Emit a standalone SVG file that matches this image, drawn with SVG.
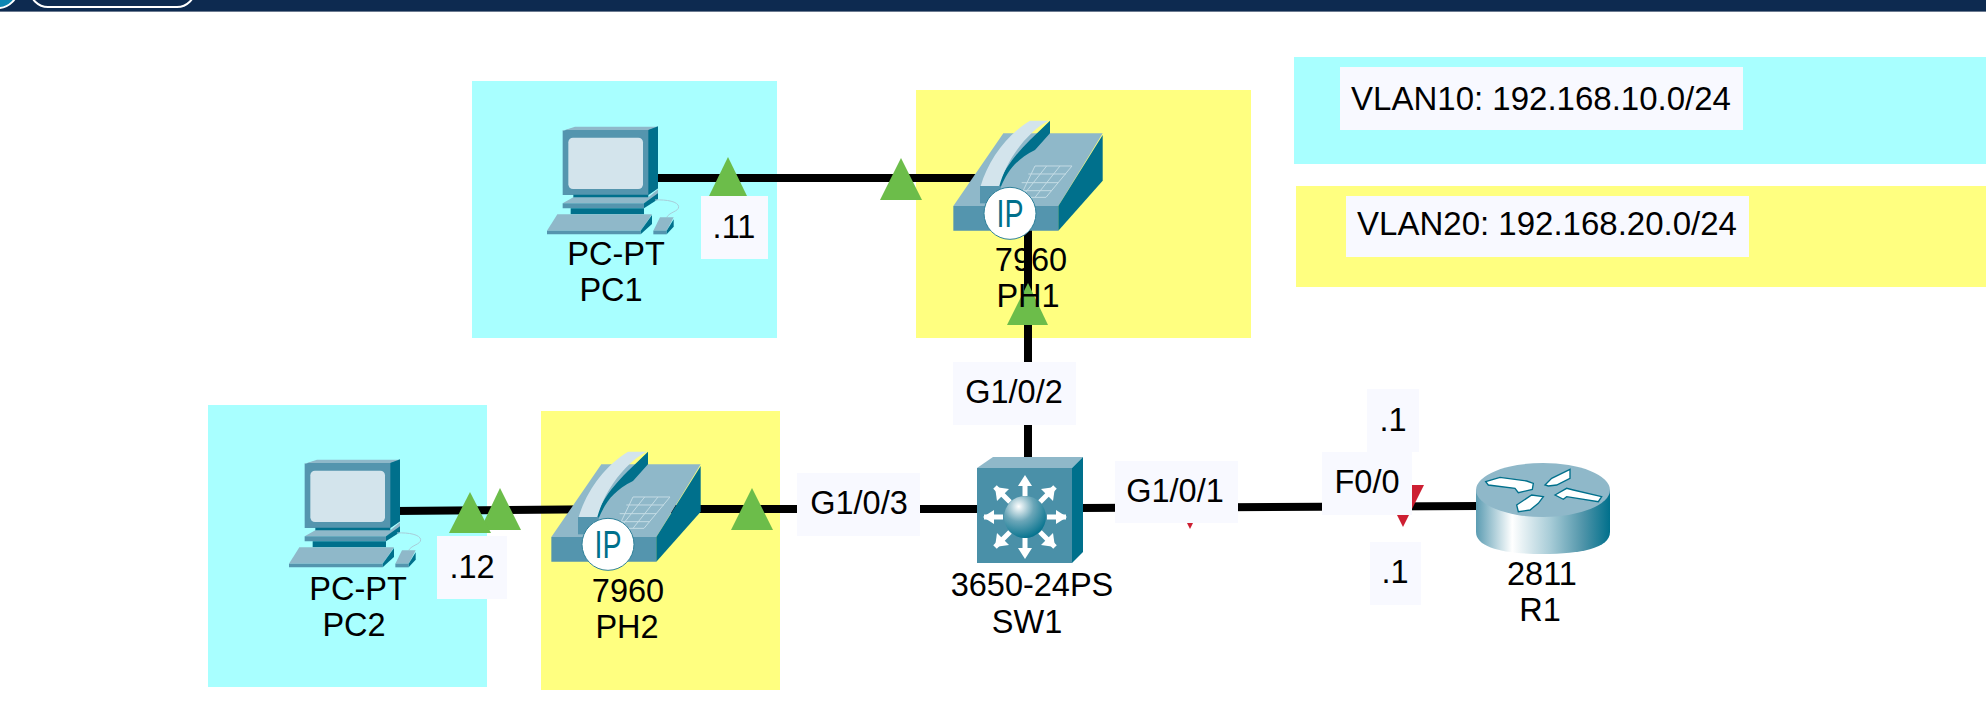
<svg xmlns="http://www.w3.org/2000/svg" width="1986" height="716" viewBox="0 0 1986 716">
<style>
text{font-family:"Liberation Sans",Arial,sans-serif;font-size:32.5px;fill:#000;text-anchor:middle}
.v{font-size:33px}
.cy{fill:#a8ffff}.ye{fill:#ffff80}.lb{fill:#f8f9ff}
.w{stroke:#000;stroke-width:8;fill:none}
.g{fill:#6cbd4a}.r{fill:#cd1f32}
.a{fill:#8fb8c9}.b{fill:#5495ae}.c{fill:#00708c}.d{fill:#d3e4ec}
</style>
<defs>
<linearGradient id="rg" x1="0" x2="1" y1="0" y2="0">
<stop offset="0" stop-color="#5b9cb2"/><stop offset=".27" stop-color="#ffffff"/><stop offset=".55" stop-color="#a9cdd8"/><stop offset=".8" stop-color="#4f94a9"/><stop offset="1" stop-color="#00708c"/>
</linearGradient>
<radialGradient id="sg" cx=".35" cy=".25" r=".8">
<stop offset="0" stop-color="#ffffff"/><stop offset=".45" stop-color="#6aa6b8"/><stop offset="1" stop-color="#00708c"/>
</radialGradient>
<g id="pc" transform="scale(.33333)">
<path class="b" d="M128 92L160 85H414V265L385 285H128Z"/>
<path class="a" d="M128 92L165 80H414L385 90H128Z"/>
<path class="c" d="M385 90L414 79V265L385 285Z"/>
<rect class="d" x="145" y="113" width="224" height="154" rx="14"/>
<path class="c" d="M160 284H385V296H160Z"/>
<path class="a" d="M128 310L160 292H385L414 268V284L372 310Z"/>
<path class="c" d="M372 310L414 280V298L372 325Z"/>
<path class="b" d="M128 310H372V325H128Z"/>
<path class="c" d="M152 325H372V343H152Z"/>
<path class="a" d="M81 392L112 343H396L362 392Z"/>
<path class="b" d="M81 392H362V403H81Z"/>
<path class="c" d="M362 392L396 345V372L362 403Z"/>
<path fill="none" stroke="#a9ccd8" stroke-width="3" d="M405 300C440 298 475 305 476 320C476 335 450 335 440 352"/>
<path class="a" d="M400 392L420 352H461L440 392Z"/>
<path class="b" d="M400 392H440V403H400Z"/>
<path class="c" d="M440 392L461 358V380L440 403Z"/>
</g>
<g id="phone" transform="scale(.33333)">
<path class="a" d="M100 318L250 100H548L415 318Z"/>
<path class="b" d="M100 318H415V392H100Z"/>
<path class="c" d="M415 318L548 105V242L415 392Z"/>
<path class="c" d="M242 262C262 215 285 180 345 150L390 100V62L330 120C290 160 255 200 232 262Z"/>
<path class="d" d="M182 258C205 180 260 105 330 62H386C330 90 262 170 238 258Z"/>
<path class="b" d="M180 258H242V310H180Z"/>
<path fill="none" stroke="#c4dce5" stroke-width="3" d="M345 198H456L378 292H300ZM325 222H438M305 248H415M285 272H395M380 198L305 292M420 198L345 292"/>
<circle cx="270" cy="340" r="78" fill="#fff" stroke="#2d7f99" stroke-width="3"/>
</g>
<text id="ip" x="0" y="14" style="font-size:38px;fill:#00708c" textLength="27" lengthAdjust="spacingAndGlyphs">IP</text>
</defs>

<rect width="1986" height="11" fill="#0d2a50"/>
<rect y="11" width="1986" height="1" fill="#6b7a90"/>
<circle cx="-2" cy="-12" r="20" fill="#0d86b3" stroke="#fff" stroke-width="2"/>
<rect x="30" y="-30" width="165" height="37" rx="18" fill="#0d2a50" stroke="#fff" stroke-width="2"/>

<rect class="cy" x="472" y="81" width="305" height="257"/>
<rect class="ye" x="916" y="90" width="335" height="248"/>
<rect class="cy" x="1294" y="57" width="692" height="107"/>
<rect class="ye" x="1296" y="186" width="690" height="101"/>
<rect class="cy" x="208" y="405" width="279" height="282"/>
<rect class="ye" x="541" y="411" width="239" height="279"/>

<g id="connectors">
<path class="w" d="M650 178H985"/>
<path class="w" d="M1028 225V460"/>
<path class="w" d="M395 511L620 509"/>
<path class="w" d="M640 509H985"/>
<path class="w" d="M1080 508L1480 506"/>
<polygon class="g" points="728,157 747,196 709,196"/>
<polygon class="g" points="901,158 922,200 880,200"/>
<polygon class="g" points="1028,283 1048,325 1007,325"/>
<polygon class="g" points="500,488 521,530 480,530"/>
<polygon class="g" points="470,492 491,533 449,533"/>
<polygon class="g" points="752,488 773,530 731,530"/>
<polygon class="r" points="1412,485 1424,485 1412,509"/>
<polygon class="r" points="1397,515 1409,515 1403,527"/>
<polygon class="r" points="1187,523 1193,523 1190,529"/>
</g>

<g id="PC1"><use href="#pc" x="520" y="100"/><text x="616" y="265">PC-PT</text><text x="611" y="301">PC1</text></g>
<g id="PC2"><use href="#pc" x="262" y="433"/><text x="358" y="600">PC-PT</text><text x="354" y="636">PC2</text></g>
<g id="PH1"><use href="#phone" x="920" y="100"/><use href="#ip" x="1010" y="213"/><text x="1031" y="271">7960</text><text x="1028" y="307">PH1</text></g>
<g id="PH2"><use href="#phone" x="518" y="431"/><use href="#ip" x="608" y="544"/><text x="628" y="602">7960</text><text x="627" y="638">PH2</text></g>

<g id="SW1">
<path class="a" d="M977 468L993 457H1083L1072 468Z"/>
<rect x="977" y="468" width="95" height="95" fill="#4a90a8"/>
<path class="c" d="M1072 468L1083 457V552L1072 563Z"/>
<g fill="none" stroke="#fff" stroke-width="5">
<path d="M1025 480V496M1025 538V553M984 517H1003M1047 517H1066M995 487L1010 502M1055 487L1040 502M995 547L1010 532M1055 547L1040 532"/>
</g>
<g fill="#fff">
<polygon points="1025,475 1018,486 1032,486"/><polygon points="1025,559 1018,548 1032,548"/>
<polygon points="983,517 994,510 994,524"/><polygon points="1067,517 1056,510 1056,524"/>
<polygon points="995,487 1009,489 997,501"/><polygon points="1055,487 1041,489 1053,501"/>
<polygon points="995,547 1009,545 997,533"/><polygon points="1055,547 1041,545 1053,533"/>
</g>
<circle cx="1025" cy="517" r="21" fill="url(#sg)"/>
<text x="1032" y="596">3650-24PS</text><text x="1027" y="633">SW1</text>
</g>

<g id="R1">
<path fill="url(#rg)" d="M1476 490V532C1476 548 1505 554 1543 554C1581 554 1610 548 1610 532V490Z"/>
<ellipse class="a" cx="1543" cy="490" rx="67" ry="27"/>
<g transform="translate(1300 400) scale(.33333)" fill="#fff" stroke="#00708c" stroke-width="4">
<polygon points="557,245 600,232 680,243 700,250 697,268 655,278 645,265 565,255"/>
<polygon points="735,255 755,235 810,208 810,235 770,255 745,258"/>
<polygon points="765,285 800,265 820,270 905,290 895,305 800,290 790,298"/>
<polygon points="730,290 695,285 650,315 655,335 690,330 715,310"/>
</g>
<text x="1542" y="585">2811</text><text x="1540" y="621">R1</text>
</g>

<g id="labels">
<rect class="lb" x="701" y="196" width="67" height="63"/><text x="734" y="238">.11</text>
<rect class="lb" x="437" y="536" width="70" height="63"/><text x="472" y="578">.12</text>
<rect class="lb" x="953" y="362" width="123" height="63"/><text x="1014" y="403">G1/0/2</text>
<rect class="lb" x="797" y="473" width="123" height="63"/><text x="859" y="514">G1/0/3</text>
<rect class="lb" x="1115" y="461" width="123" height="62"/><text x="1175" y="502">G1/0/1</text>
<rect class="lb" x="1367" y="389" width="52" height="63"/><text x="1393" y="431">.1</text>
<rect class="lb" x="1322" y="452" width="90" height="63"/><text x="1367" y="493">F0/0</text>
<rect class="lb" x="1370" y="542" width="51" height="63"/><text x="1395" y="583">.1</text>
<rect class="lb" x="1340" y="67" width="403" height="63"/><text class="v" x="1541" y="110">VLAN10: 192.168.10.0/24</text>
<rect class="lb" x="1346" y="196" width="403" height="61"/><text class="v" x="1547" y="235">VLAN20: 192.168.20.0/24</text>
</g>
</svg>
